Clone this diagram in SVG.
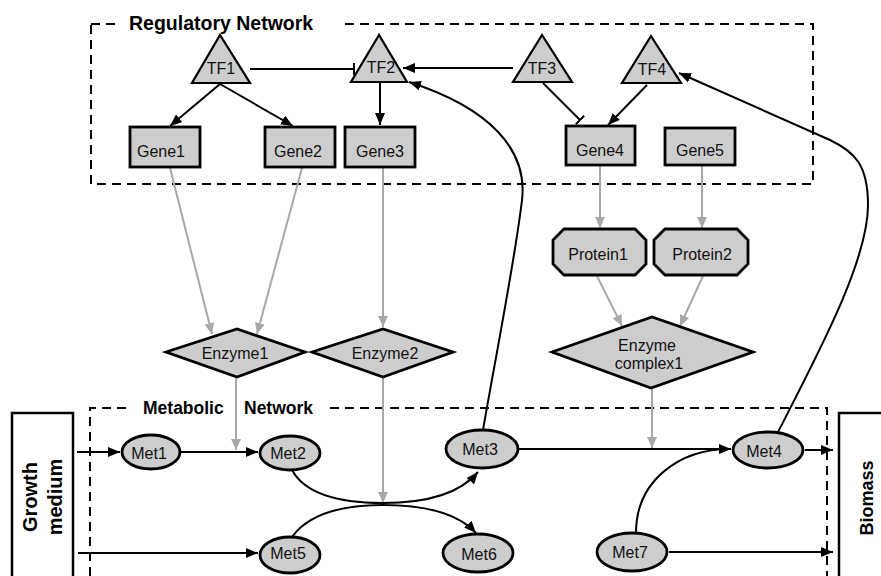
<svg xmlns="http://www.w3.org/2000/svg" width="881" height="576" viewBox="0 0 881 576">
<style>
.n{fill:#cdcdcd;stroke:#000;stroke-width:2.2}
.g{fill:#cdcdcd;stroke:#000;stroke-width:2.8}
.t{font-family:"Liberation Sans",Arial,sans-serif;font-size:16px;fill:#111;text-anchor:middle}
.b{font-family:"Liberation Sans",Arial,sans-serif;font-weight:bold;fill:#000}
.k{fill:none;stroke:#000;stroke-width:2}
.gr{fill:none;stroke:#a8a8a8;stroke-width:2}
.d{fill:none;stroke:#000;stroke-width:2;stroke-dasharray:9,6}
</style>
<defs>
<marker id="ab" viewBox="0 0 12 10" refX="12" refY="5" markerWidth="12" markerHeight="10" markerUnits="userSpaceOnUse" orient="auto"><path d="M0,0 L12,5 L0,10 z" fill="#000"/></marker>
<marker id="ag" viewBox="0 0 11 10" refX="11" refY="5" markerWidth="11" markerHeight="10" markerUnits="userSpaceOnUse" orient="auto"><path d="M0,0 L11,5 L0,10 z" fill="#a8a8a8"/></marker>
<marker id="tb" viewBox="0 0 2 12" refX="1" refY="6" markerWidth="2" markerHeight="12" markerUnits="userSpaceOnUse" orient="auto"><rect width="2" height="12" fill="#000"/></marker>
</defs>

<g id="regulatory-network">
<path class="d" d="M91,24 H118"/>
<path class="d" d="M345,24 H813 V184 H91 V24"/>
<text class="b" x="129" y="30" font-size="19.5">Regulatory Network</text>
</g>
<g id="metabolic-network">
<path class="d" d="M90,576 V408 H128"/>
<path class="d" d="M330,408 H827 V576"/>
<text class="b" x="143" y="414" font-size="17.5">Metabolic</text>
<text class="b" x="244" y="414" font-size="17.5">Network</text>
</g>

<g id="connectors">
<path class="k" d="M250,69 H354" marker-end="url(#tb)"/>
<path class="k" d="M513,68 H403" marker-end="url(#ab)"/>
<path class="k" d="M220,84 L170,126" marker-end="url(#ab)"/>
<path class="k" d="M220,84 L293,126" marker-end="url(#ab)"/>
<path class="k" d="M380,83 V125" marker-end="url(#ab)"/>
<path class="k" d="M543,83 L580,120" marker-end="url(#tb)"/>
<path class="k" d="M647,85 L608,125" marker-end="url(#ab)"/>
<path class="k" d="M483,430 C495,360 515,260 522,200 C528,150 490,108 409,82" marker-end="url(#ab)"/>
<path class="k" d="M778,432 C820,350 868,260 868,205 C868,165 855,152 830,140 L679,73" marker-end="url(#ab)"/>

<path class="gr" d="M170,168 L212,334" marker-end="url(#ag)"/>
<path class="gr" d="M302,168 L257,334" marker-end="url(#ag)"/>
<path class="gr" d="M383,168 V327" marker-end="url(#ag)"/>
<path class="gr" d="M600,166 V228" marker-end="url(#ag)"/>
<path class="gr" d="M702,166 V228" marker-end="url(#ag)"/>
<path class="gr" d="M597,276 L622,326" marker-end="url(#ag)"/>
<path class="gr" d="M703,276 L680,326" marker-end="url(#ag)"/>
<path class="gr" d="M236,378 V450" marker-end="url(#ag)"/>
<path class="gr" d="M383,378 V503" marker-end="url(#ag)"/>
<path class="gr" d="M652,389 V448" marker-end="url(#ag)"/>

<path class="k" d="M77,452 H120" marker-end="url(#ab)"/>
<path class="k" d="M180,452 H258" marker-end="url(#ab)"/>
<path class="k" d="M78,553 H258" marker-end="url(#ab)"/>
<path class="k" d="M292,470 Q310,503 383,503 Q452,503 478,472" marker-end="url(#ab)"/>
<path class="k" d="M292,537 Q315,505 383,505 Q450,505 476,533" marker-end="url(#ab)"/>
<path class="k" d="M518,449 H731" marker-end="url(#ab)"/>
<path class="k" d="M636,533 C636,480 680,449 730,449"/>
<path class="k" d="M805,450 H833" marker-end="url(#ab)"/>
<path class="k" d="M669,552 H833" marker-end="url(#ab)"/>
</g>

<g id="TF1"><polygon class="n" points="220,35 192,83 250,83"/><text class="t" x="221" y="74">TF1</text></g>
<g id="TF2"><polygon class="n" points="379,35 351,82 407,82"/><text class="t" x="381" y="73">TF2</text></g>
<g id="TF3"><polygon class="n" points="542,35 513,82 572,82"/><text class="t" x="542" y="74">TF3</text></g>
<g id="TF4"><polygon class="n" points="651,36 622,83 681,83"/><text class="t" x="652" y="75">TF4</text></g>

<g id="Gene1"><rect class="g" x="130" y="127" width="70" height="40"/><text class="t" x="161" y="157">Gene1</text></g>
<g id="Gene2"><rect class="g" x="265" y="127" width="70" height="40"/><text class="t" x="298" y="157">Gene2</text></g>
<g id="Gene3"><rect class="g" x="345" y="127" width="70" height="40"/><text class="t" x="380" y="157">Gene3</text></g>
<g id="Gene4"><rect class="g" x="566" y="126" width="69" height="39"/><text class="t" x="600" y="156">Gene4</text></g>
<g id="Gene5"><rect class="g" x="665" y="128" width="70" height="37"/><text class="t" x="700" y="156">Gene5</text></g>

<g id="Protein1"><polygon class="g" points="564,229 635,229 646,240 646,264 635,275 564,275 553,264 553,240"/><text class="t" x="598" y="260">Protein1</text></g>
<g id="Protein2"><polygon class="g" points="665,229 737,229 748,240 748,264 737,275 665,275 654,264 654,240"/><text class="t" x="702" y="260">Protein2</text></g>

<g id="Enzyme1"><polygon class="g" points="166,352 237,329 305,352 237,377"/><text class="t" x="235" y="359">Enzyme1</text></g>
<g id="Enzyme2"><polygon class="g" points="312,352 383,329 453,352 383,377"/><text class="t" x="385" y="359">Enzyme2</text></g>
<g id="EnzymeComplex1"><polygon class="g" points="552,352 652,317 753,352 651,388"/><text class="t" x="647" y="351">Enzyme</text><text class="t" x="649" y="369">complex1</text></g>

<g id="Met1"><ellipse class="g" cx="151" cy="452" rx="29" ry="17"/><text class="t" x="149" y="459">Met1</text></g>
<g id="Met2"><ellipse class="g" cx="290" cy="453" rx="30" ry="17"/><text class="t" x="288" y="459">Met2</text></g>
<g id="Met3"><ellipse class="g" cx="482" cy="449" rx="36" ry="19"/><text class="t" x="480" y="455">Met3</text></g>
<g id="Met4"><ellipse class="g" cx="768" cy="450" rx="35" ry="18"/><text class="t" x="764" y="457">Met4</text></g>
<g id="Met5"><ellipse class="g" cx="290" cy="555" rx="30" ry="18"/><text class="t" x="288" y="559">Met5</text></g>
<g id="Met6"><ellipse class="g" cx="478" cy="553" rx="35" ry="19"/><text class="t" x="479" y="560">Met6</text></g>
<g id="Met7"><ellipse class="g" cx="632" cy="552" rx="35" ry="19"/><text class="t" x="630" y="558">Met7</text></g>

<g id="GrowthMedium"><rect x="12" y="413" width="61" height="200" fill="#fff" stroke="#000" stroke-width="2.5"/>
<text class="b" font-size="20" text-anchor="middle" transform="translate(37,497) rotate(-90)">Growth</text>
<text class="b" font-size="20" text-anchor="middle" transform="translate(62,497) rotate(-90)">medium</text></g>
<g id="Biomass"><rect x="839" y="413" width="60" height="200" fill="#fff" stroke="#000" stroke-width="2.5"/>
<text class="b" font-size="18" text-anchor="middle" transform="translate(873,498) rotate(-90)">Biomass</text></g>
</svg>
